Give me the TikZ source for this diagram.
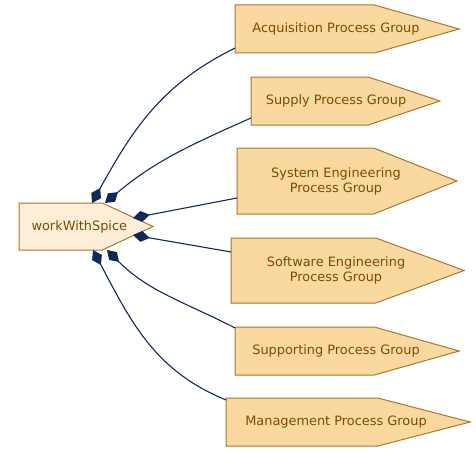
\documentclass[tikz,border=0pt]{standalone}
\usepackage{fontspec}
\setmainfont{DejaVu Sans}
\usepackage{tikz}
\usetikzlibrary{positioning,calc,backgrounds,arrows.meta}
\definecolor{pgfill}{HTML}{FAD9A0}
\definecolor{wsfill}{HTML}{FFEED7}
\definecolor{pgline}{HTML}{A8782A}
\definecolor{pgtext}{HTML}{7A4B06}
\definecolor{linkcol}{HTML}{0E2A57}
\tikzstyle{group} = [rectangle, draw=none, outer sep=0pt, inner sep=2pt, text=pgtext, align=center, font=\fontsize{12.9}{15}\selectfont]
\tikzstyle{outline} = [draw=pgline, line width=1pt]
\tikzstyle{comp} = [draw=linkcol, line width=1.1pt, arrows={Diamond[length=17pt,width=11pt]-}]

\begin{document}
\begin{tikzpicture}[x=1pt, y=-1pt]
	\useasboundingbox (0,0) rectangle (476,452);
	% place nodes
	\node [group, minimum width=120.6pt, minimum height=47pt] (ws) at (79.3,226.5) {workWithSpice};
	\node [group, minimum width=201.6pt, minimum height=48pt] (acq) at (336,29) {Acquisition Process Group};
	\node [group, below of=acq, node distance=72pt, minimum width=170pt, minimum height=48pt] (sup) {Supply Process Group};
	\node [group, below of=sup, node distance=80pt, minimum width=198pt, minimum height=66pt] (sys) {System Engineering\\Process Group};
	\node [group, below of=sys, node distance=89.5pt, minimum width=209.7pt, minimum height=65pt] (sw) {Software Engineering\\Process Group};
	\node [group, below of=sw, node distance=80.5pt, minimum width=201.6pt, minimum height=48pt] (supp) {Supporting Process Group};
	\node [group, below of=supp, node distance=71pt, minimum width=219.6pt, minimum height=48pt] (mgmt) {Management Process Group};

	% pointed outlines behind the texts
	\begin{scope}[on background layer]
		\foreach \n/\f in {ws/wsfill, acq/pgfill, sup/pgfill, sys/pgfill, sw/pgfill, supp/pgfill, mgmt/pgfill}
			\path [outline, fill=\f] (\n.north west) -- ($(\n.north west)!0.69!(\n.north east)$)
				-- ($(\n.west)!1.111!(\n.east)$) -- ($(\n.south west)!0.69!(\n.south east)$)
				-- (\n.south west) -- cycle;
	\end{scope}

	% draw edges
	\path [comp] ([xshift=73pt]ws.north west) to[out=61, in=206] ([yshift=5pt]acq.south west);
	\path [comp] ([xshift=86pt]ws.north west) to[out=40, in=204] ([yshift=7pt]sup.south west);
	\path [comp] ([xshift=-6.6pt, yshift=8.5pt]ws.east) -- ([yshift=-17pt]sys.west);
	\path [comp] ([xshift=-6.6pt, yshift=-8.5pt]ws.east) -- ([yshift=18.5pt]sw.west);
	\path [comp] ([xshift=88pt]ws.south west) to[out=-45, in=153] ([yshift=-1pt]supp.north west);
	\path [comp] ([xshift=74pt]ws.south west) to[out=-62, in=158] ([yshift=-2pt]mgmt.north west);
\end{tikzpicture}
\end{document}
